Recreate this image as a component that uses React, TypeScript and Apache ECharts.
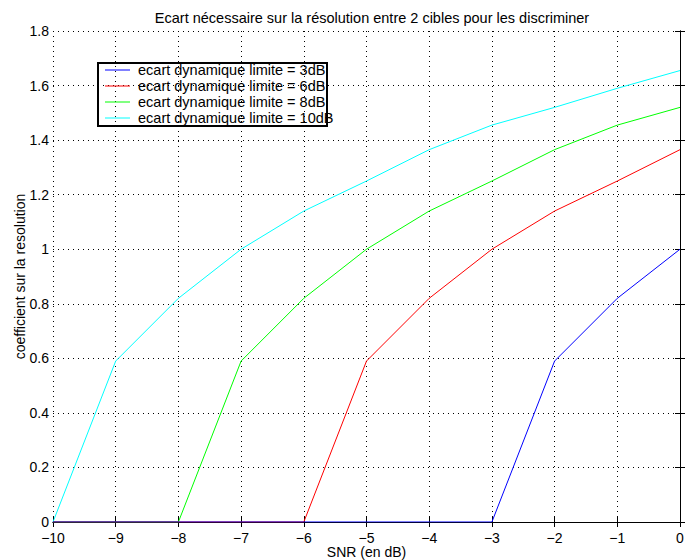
import React, { useEffect, useRef } from "react";
import * as echarts from "echarts";

const snr = [-10, -9, -8, -7, -6, -5, -4, -3, -2, -1, 0];
const seriesNames = [
  "ecart dynamique limite = 3dB",
  "ecart dynamique limite = 6dB",
  "ecart dynamique limite = 8dB",
  "ecart dynamique limite = 10dB",
];
const values3dB = [0, 0, 0, 0, 0, 0, 0, 0, 0.59, 0.82, 1.0];
const values6dB = [0, 0, 0, 0, 0, 0.59, 0.82, 1.0, 1.14, 1.25, 1.365];
const values8dB = [0, 0, 0, 0.59, 0.82, 1.0, 1.14, 1.25, 1.365, 1.455, 1.52];
const values10dB = [0, 0.59, 0.82, 1.0, 1.14, 1.25, 1.365, 1.455, 1.52, 1.59, 1.655];
const colors = ["#0000ff", "#ff0000", "#00ff00", "#00ffff"];

const FONT = "Liberation Sans, Arial, Helvetica, sans-serif";

export default function App() {
  const ref = useRef<HTMLDivElement>(null);
  useEffect(() => {
    if (!ref.current) return;
    const chart = echarts.init(ref.current, null, { renderer: "svg" });
    const allValues = [values3dB, values6dB, values8dB, values10dB];
    const zs = [5, 4, 3, 2];
    const fmtX = (v: number) => (v < 0 ? "\u2212" + Math.abs(v) : String(v));
    const fmtY = (v: number) => String(Math.round(v * 10) / 10);
    const gridLine = { show: true, lineStyle: { color: "#000", type: [1, 4] as any, width: 1 } };
    chart.setOption({
      animation: false,
      backgroundColor: "#fff",
      textStyle: { fontFamily: FONT },
      title: {
        text: "Ecart nécessaire sur la résolution entre 2 cibles pour les discriminer",
        left: 367,
        textAlign: "center",
        top: 5,
        textStyle: { fontSize: 14.5, fontWeight: "normal", color: "#000", fontFamily: FONT },
      },
      grid: { left: 53, right: 16, top: 31, bottom: 38, containLabel: false, outerBoundsMode: "none" },
      legend: {
        orient: "vertical",
        left: 105,
        top: 62,
        padding: 0,
        itemGap: 0,
        itemWidth: 25,
        itemHeight: 1,
        icon: "rect",
        textStyle: { fontSize: 14.5, lineHeight: 16, color: "#000", fontFamily: FONT, padding: [0, 0, 0, 3] },
        data: seriesNames,
      },
      xAxis: [
        {
          type: "value",
          min: -10,
          max: 0,
          interval: 1,
          position: "bottom",
          name: "SNR (en dB)",
          nameLocation: "middle",
          nameGap: 23,
          nameMoveOverlap: false,
          nameTextStyle: { fontSize: 14, color: "#000", fontFamily: FONT },
          axisLine: { show: true, lineStyle: { color: "#000", width: 1 } },
          axisTick: { show: true, inside: true, length: 5, lineStyle: { color: "#000" } },
          axisLabel: { fontSize: 14, color: "#000", margin: 9, formatter: fmtX, fontFamily: FONT },
          splitLine: gridLine,
        },
        {
          type: "value",
          min: -10,
          max: 0,
          interval: 1,
          position: "top",
          axisLine: { show: true, lineStyle: { color: "#000", width: 1 } },
          axisTick: { show: true, inside: true, length: 5, lineStyle: { color: "#000" } },
          axisLabel: { show: false },
          splitLine: { show: false },
        },
      ],
      yAxis: [
        {
          type: "value",
          min: 0,
          max: 1.8,
          interval: 0.2,
          position: "left",
          name: "coefficient sur la resolution",
          nameLocation: "middle",
          nameGap: 26,
          nameMoveOverlap: false,
          nameRotate: 90,
          nameTextStyle: { fontSize: 14, color: "#000", fontFamily: FONT },
          axisLine: { show: true, lineStyle: { color: "#000", width: 1 } },
          axisTick: { show: true, inside: true, length: 5, lineStyle: { color: "#000" } },
          axisLabel: { fontSize: 14, color: "#000", margin: 4, formatter: fmtY, fontFamily: FONT },
          splitLine: gridLine,
        },
        {
          type: "value",
          min: 0,
          max: 1.8,
          interval: 0.2,
          position: "right",
          axisLine: { show: true, lineStyle: { color: "#000", width: 1 } },
          axisTick: { show: true, inside: true, length: 5, lineStyle: { color: "#000" } },
          axisLabel: { show: false },
          splitLine: { show: false },
        },
      ],
      graphic: [
        {
          type: "rect",
          shape: { x: 98, y: 63, width: 229, height: 63 },
          style: { fill: "none", stroke: "#000", lineWidth: 2 },
          z: 1,
        },
      ],
      series: seriesNames.map((name, i) => ({
        name,
        type: "line",
        xAxisIndex: 0,
        yAxisIndex: 0,
        symbol: "none",
        z: zs[i],
        color: colors[i],
        lineStyle: { color: colors[i], width: 1 },
        data: snr.map((x, j) => [x, allValues[i][j]]),
      })),
    });
    return () => chart.dispose();
  }, []);
  return <div ref={ref} style={{ width: 696, height: 560, position: "absolute", left: 0, top: 0 }} />;
}
